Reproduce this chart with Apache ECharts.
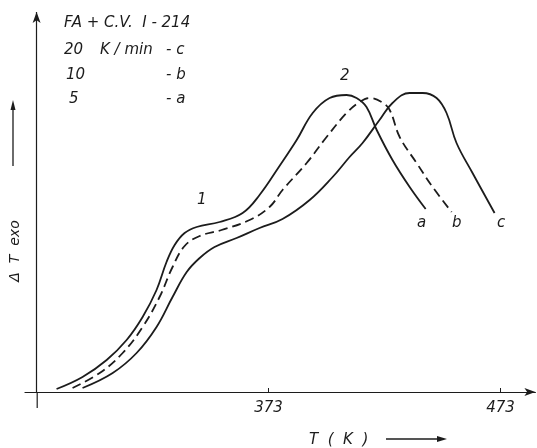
<!DOCTYPE html>
<html>
<head>
<meta charset="utf-8">
<script src="https://cdn.jsdelivr.net/npm/echarts@6/dist/echarts.min.js"></script>
<style>
html,body{margin:0;padding:0;background:#fff;}
#chart{width:537px;height:448px;}
</style>
</head>
<body>
<div id="chart"></div>
<script>
// Temperature (K) and ΔT (arbitrary units)
var tA = [281.6, 292.8, 303.2, 311.8, 318.7, 324.7, 329.0, 332.5, 336.8, 342.0, 351.9, 361.8, 369.1, 377.7, 385.1, 392.0, 399.3, 406.6, 410.9, 415.2, 419.6, 426.4, 433.8, 440.7];
var vA = [3, 15, 32, 52, 75, 102, 130, 147, 159, 165, 170, 179, 197, 226, 252, 279, 294, 297, 294, 285, 262, 232, 205, 183];

var tB = [288.5, 300.2, 310.1, 318.7, 326.0, 331.6, 336.8, 343.3, 352.7, 364.8, 373.4, 379.0, 389.4, 398.0, 406.6, 412.2, 416.5, 421.7, 425.2, 429.5, 436.8, 443.7, 451.9];
var vB = [4, 19, 39, 65, 95, 125, 146, 156, 162, 172, 185, 202, 229, 255, 279, 290, 294, 290, 282, 255, 229, 205, 180];

var tC = [292.8, 305.8, 316.1, 324.7, 331.6, 337.7, 343.3, 349.7, 359.2, 369.1, 379.0, 390.7, 400.6, 407.9, 413.5, 420.8, 426.4, 433.8, 439.4, 445.4, 449.7, 454.0, 460.9, 470.4];
var vC = [4, 19, 39, 65, 95, 120, 134, 145, 154, 164, 173, 192, 215, 235, 249, 272, 289, 299, 299, 294, 279, 249, 219, 179];

var xTicks = [373, 473];
var yAxisAt = 273;

function pairs(t, v) { return t.map(function (x, i) { return [x, v[i]]; }); }

var ink = '#1c1c1c';
var font = 'DejaVu Sans, Liberation Sans, sans-serif';

function txt(x, y, s, size, extra) {
  var o = {
    type: 'text', x: x, y: y, z: 10,
    style: { text: s, fill: ink, font: 'italic ' + (size || 15) + 'px ' + font, verticalAlign: 'middle', align: 'left' }
  };
  if (extra) for (var k in extra) o[k] = extra[k];
  return o;
}

var chart = echarts.init(document.getElementById('chart'));
chart.setOption({
  animation: false,
  backgroundColor: '#fff',
  grid: { left: 25, right: 1.6, top: 12, bottom: 56 },
  xAxis: {
    type: 'value', min: 268, max: 488,
    axisLine: { show: true, symbol: ['none', 'arrow'], symbolSize: [6, 11], lineStyle: { color: ink, width: 1.2 } },
    axisTick: { show: true, customValues: xTicks, inside: true, length: 4, lineStyle: { color: ink } },
    axisLabel: { show: true, customValues: xTicks, margin: 9, color: ink, fontSize: 15, fontStyle: 'italic', fontFamily: font },
    splitLine: { show: false }
  },
  yAxis: {
    type: 'value', min: 0, max: 380,
    axisLine: { show: false }, axisTick: { show: false }, axisLabel: { show: false }, splitLine: { show: false }
  },
  series: [
    {
      name: 'a', type: 'line', data: pairs(tA, vA), smooth: 0.4, showSymbol: false,
      lineStyle: { color: ink, width: 1.8 },
      markLine: {
        silent: true, symbol: ['none', 'arrow'], symbolSize: [6, 11],
        lineStyle: { color: ink, width: 1.2, type: 'solid' }, label: { show: false },
        data: [[{ coord: [yAxisAt, 0] }, { coord: [yAxisAt, 380] }]]
      }
    },
    {
      name: 'b', type: 'line', data: pairs(tB, vB), smooth: 0.4, showSymbol: false,
      lineStyle: { color: ink, width: 1.8, type: [9, 5] }
    },
    {
      name: 'c', type: 'line', data: pairs(tC, vC), smooth: 0.4, showSymbol: false,
      lineStyle: { color: ink, width: 1.8 }
    }
  ],
  graphic: [
    { type: 'line', shape: { x1: 37.2, y1: 392, x2: 37.2, y2: 408 }, style: { stroke: ink, lineWidth: 1.2 } },
    txt(64, 23, 'FA + C.V.  I - 214', 15),
    txt(64, 50, '20', 15),
    txt(100, 50, 'K / min', 15),
    txt(166, 50, '- c', 15),
    txt(66, 75, '10', 15),
    txt(166, 75, '- b', 15),
    txt(69, 99, '5', 15),
    txt(166, 99, '- a', 15),
    txt(197, 200, '1', 15),
    txt(340, 76, '2', 15),
    txt(417, 223, 'a', 15),
    txt(452, 223, 'b', 15),
    txt(497, 223, 'c', 15),
    txt(309, 440, 'T  (  K  )', 15),
    { type: 'line', shape: { x1: 386, y1: 439, x2: 440, y2: 439 }, style: { stroke: ink, lineWidth: 1.3 } },
    { type: 'polygon', shape: { points: [[447, 439], [437, 436], [437, 442]] }, style: { fill: ink } },
    txt(15, 251, 'Δ  T  exo', 14, { rotation: Math.PI / 2, style: { text: 'Δ  T  exo', fill: ink, font: 'italic 14px ' + font, verticalAlign: 'middle', align: 'center' } }),
    { type: 'line', shape: { x1: 13, y1: 166, x2: 13, y2: 108 }, style: { stroke: ink, lineWidth: 1.3 } },
    { type: 'polygon', shape: { points: [[13, 100], [10.5, 110], [15.5, 110]] }, style: { fill: ink } }
  ]
});
</script>
</body>
</html>
